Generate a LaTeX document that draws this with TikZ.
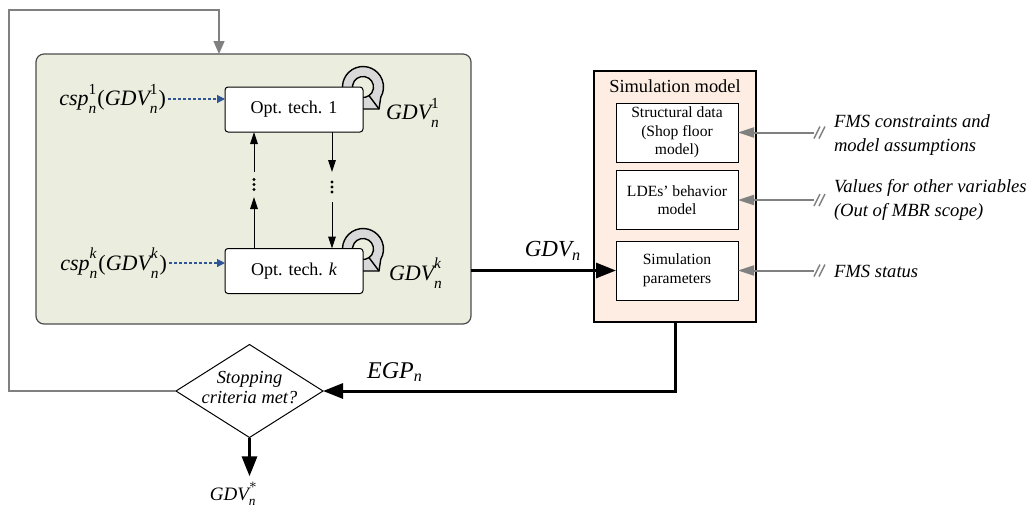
\documentclass[tikz,border=0pt]{standalone}
\usepackage[no-math]{fontspec}
\setmainfont{Liberation Serif}[NFSSFamily=lsf]
\DeclareSymbolFont{operators}{TU}{lsf}{m}{n}
\DeclareSymbolFont{letters}{TU}{lsf}{m}{it}
\usepackage{xcolor}
\definecolor{optgreen}{RGB}{235,238,222}
\definecolor{simpeach}{RGB}{253,237,227}
\definecolor{ringgray}{RGB}{217,217,217}
\definecolor{cspblue}{RGB}{47,85,151}
\definecolor{inputgray}{RGB}{128,128,128}
\usepackage{tikz}
\usetikzlibrary{positioning}
\usetikzlibrary{arrows.meta,shapes.geometric}
\usetikzlibrary{calc}
% index n below, iteration above, kept apart
\newcommand{\subsup}[2]{_{\lower1.2pt\hbox{$\scriptstyle #1$}}^{\raise1.8pt\hbox{$\scriptstyle #2$}}}

\tikzset{
  selfloop/.pic={
    \filldraw[fill=ringgray,line width=0.7pt]
      (200:10.25pt) arc[start angle=200,end angle=-30,radius=10.25pt]
      -- (8pt,-11pt) -- (-4pt,-11pt) -- (-100:5.25pt)
      arc[start angle=-100,end angle=200,radius=5.25pt] -- cycle;
    \draw[line width=0.7pt] (-55:5.25pt) -- (8pt,-11pt);
  }
}

\begin{document}
\begin{tikzpicture}[x=0.5pt,y=-0.5pt,every node/.style={inner sep=1pt,outer sep=0pt},
  optbox/.style={draw,rounded corners=1.5pt,fill=white,line width=0.5pt,minimum width=69pt,minimum height=22.5pt,font=\fontsize{9}{10}\selectfont},
  simbox/.style={draw,fill=white,line width=0.5pt,minimum width=61pt,minimum height=29.5pt,align=center,font=\fontsize{7.8}{9.3}\selectfont},
  mlabel/.style={font=\fontsize{11}{12}\selectfont},
  note/.style={anchor=west,inner sep=0pt,align=left,font=\fontsize{9.3}{12}\selectfont\itshape},
  arr/.style={-{Triangle[length=6pt,width=3.8pt]},line width=0.5pt},
  dsh/.style={-{Triangle[length=4pt,width=4pt]},cspblue,line width=0.6pt,dash pattern=on 1.5pt off 1pt},
  big/.style={-{Triangle[length=10pt,width=7.5pt]},line width=1.5pt},
  inp/.style={-{Triangle[length=8pt,width=5pt]},inputgray,line width=1pt},
  fb/.style={-{Triangle[length=6.5pt,width=5.5pt]},inputgray,line width=0.75pt}]
	\useasboundingbox (0,0) rectangle (1035,511);

	% optimisation techniques
	\node[draw=black!70,line width=0.6pt,rounded corners=4pt,fill=optgreen,minimum width=217.5pt,minimum height=135pt] (loop) at (253.5,189) {};
	\pic at (363,87) {selfloop};
	\pic at (363,249) {selfloop};
	\node[optbox] (t1) at (294,109.5) {Opt. tech. 1};
	\node[optbox] (tk) at (294,271) {Opt. tech. $k$};
	\node[mlabel,anchor=east] (c1) at (168,99) {$csp\subsup{n}{1}(GDV\subsup{n}{1})$};
	\node[mlabel,anchor=east] (ck) at (169,263) {$csp\subsup{n}{k}(GDV\subsup{n}{k})$};
	\node[mlabel,anchor=west] (g1) at (384,113) {$GDV\subsup{n}{1}$};
	\node[mlabel,anchor=west] (gk) at (387,273) {$GDV\subsup{n}{k}$};
	\node[minimum height=12.5pt,minimum width=2pt,inner sep=0pt] (dl) at (254,184.5) {};
	\node[minimum height=15pt,minimum width=2pt,inner sep=0pt] (dr) at (332,187) {};
	\foreach \d in {dl,dr}
		\foreach \o in {-2.5,0,2.5}
			\fill ([yshift=\o pt]\d.center) circle (0.8pt);
	\draw[arr] (tk.north -| dl) -- (dl.south);
	\draw[arr] (dl.north) -- (t1.south -| dl);
	\draw[arr] (t1.south -| dr) -- (dr.north);
	\draw[arr] (dr.south) -- (tk.north -| dr);
	\draw[dsh] (c1.east) -- (c1.east -| t1.west);
	\draw[dsh] (ck.east) -- (ck.east -| tk.west);

	% simulation model
	\node[draw,line width=0.85pt,fill=simpeach,minimum width=81pt,minimum height=125.5pt] (sim) at (675,196.5) {};
	\node[font=\fontsize{9.2}{10}\selectfont] (simt) at (675,86) {Simulation model};
	\node[simbox] (s1) at (677,132.5) {Structural data\\(Shop floor\\model)};
	\node[simbox] (s2) at (677,200) {LDEs’ behavior\\model};
	\node[simbox] (s3) at (677,270.5) {Simulation\\parameters};
	\draw[big] (s3.west -| loop.east) -- (s3.west);
	\node[font=\fontsize{11.5}{12}\selectfont] (gn) at (553,251) {$GDV_n$};

	% inputs
	\node[note] (n1) at (834,135) {FMS constraints and\\model assumptions};
	\node[note] (n2) at (834,200) {Values for other variables\\(Out of MBR scope)};
	\node[note] (n3) at (834,271) {FMS status};
	\foreach \nt/\sb in {n1/s1,n2/s2,n3/s3}{
		\draw[inp] ($(\sb.east -| \nt.west)+(-20,0)$) -- (\sb.east);
		\foreach \o in {-17,-12}
			\draw[inputgray,line width=0.7pt] ($(\sb.east -| \nt.west)+(\o-3,6)$) -- ++(6,-12);
	}

	% stopping test
	\node[diamond,draw,line width=0.5pt,fill=white,minimum width=73.5pt,minimum height=46.5pt,inner sep=0pt] (dec) at (249.5,391) {};
	\node[font=\fontsize{9.2}{10}\selectfont\itshape,align=center] (dect) at (249.5,388) {Stopping\\criteria met?};
	\draw[big] (sim.south) |- (dec.east);
	\node[font=\fontsize{12}{13}\selectfont] (egp) at (395,372) {$EGP_n$};
	\node[font=\fontsize{9.5}{10}\selectfont] (best) at (234,494) {$GDV\subsup{n}{*}$};
	\draw[big,shorten >=2pt] (dec.south) -- (dec.south |- best.north);
	\coordinate (ret) at (9,10);
	\draw[fb] (dec.west) -| (ret) -| ([xshift=-17.25pt]loop.north);
\end{tikzpicture}
\end{document}
